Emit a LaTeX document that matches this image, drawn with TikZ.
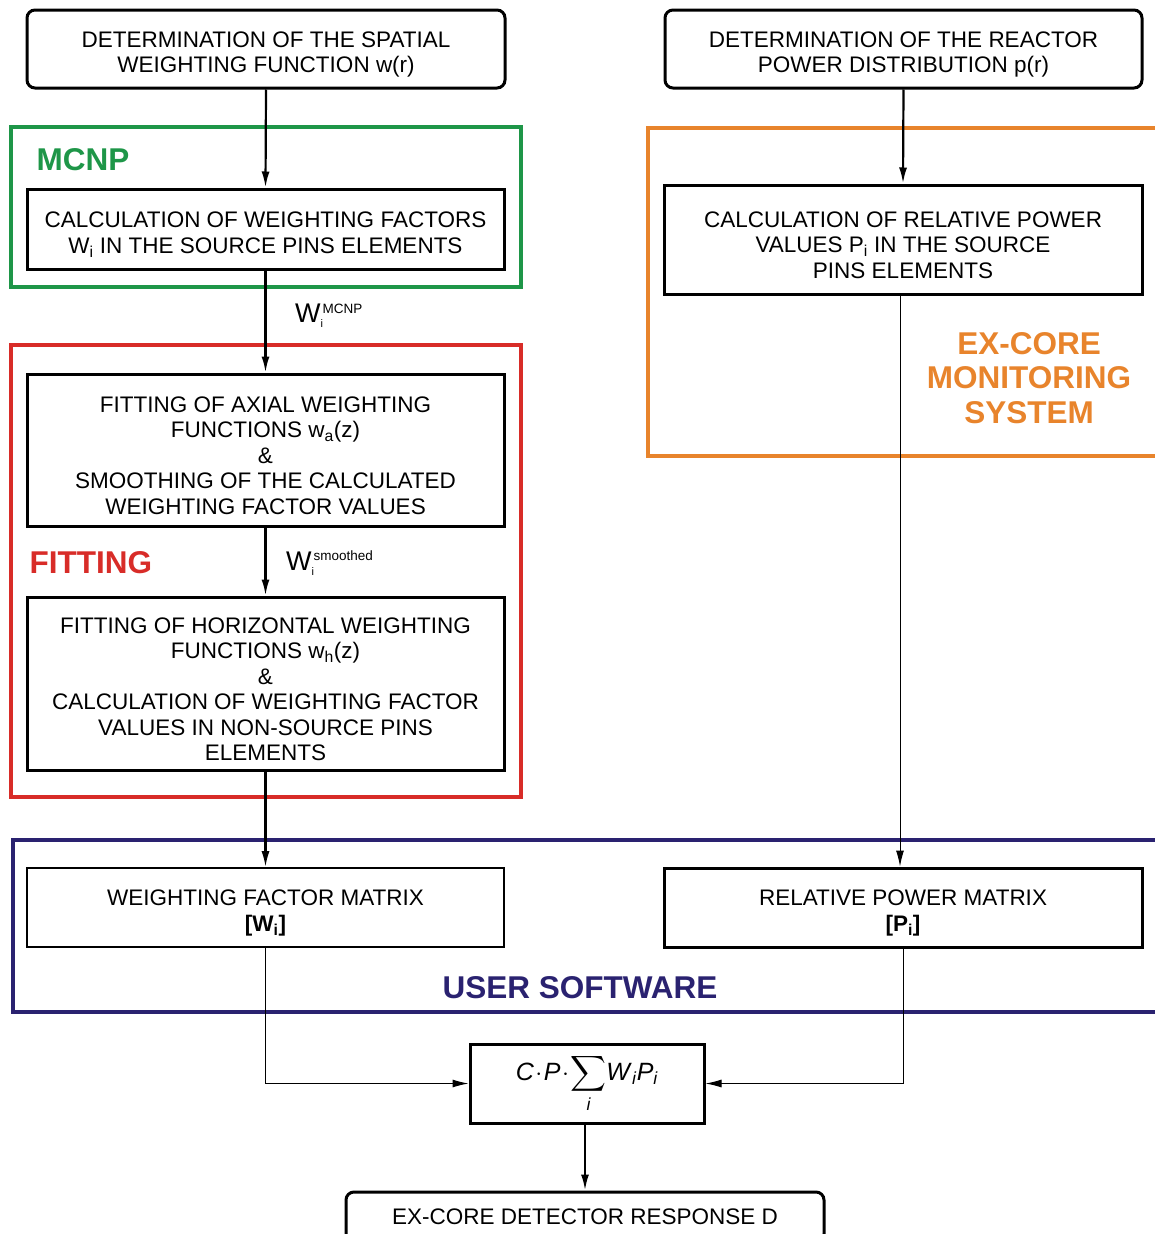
\RequirePackage{fix-cm}
\documentclass[tikz,border=0pt]{standalone}
\usepackage{amsmath}
\usepackage{fontspec}
\setmainfont{Liberation Sans}
\usetikzlibrary{arrows.meta}

\definecolor{mcnpgreen}{RGB}{30,150,72}
\definecolor{fitred}{RGB}{216,44,40}
\definecolor{exorange}{RGB}{232,132,44}
\definecolor{usernavy}{RGB}{42,34,112}

% extra room above the first text line of a box
\newcommand\boxtopstrut{\rule{0pt}{27pt}}

\begin{document}
\begin{tikzpicture}[x=1pt,y=-1pt,
  txt/.style={font=\fontsize{22.5}{25.5}\selectfont},
  box/.style={draw, line width=3pt, align=center, inner sep=0pt, txt},
  rbox/.style={box, rounded corners=8pt},
  thinbox/.style={box, line width=1.6pt},
  frame/.style={line width=3.2pt},
  grouplabel/.style={font=\fontsize{31.5}{34.5}\selectfont\bfseries, align=center},
  arr/.style={line width=2.2pt, -{Latex[length=16pt,width=8pt]}},
  thinarr/.style={line width=1pt, -{Latex[length=16pt,width=8pt]}},
  flowlabel/.style={anchor=west, inner sep=0pt}
]
\useasboundingbox (0,0) rectangle (1155,1234);
\clip (0,0) rectangle (1155,1234);

% group frames
\draw[frame, mcnpgreen] (11,127) rectangle (521,287);
\draw[frame, fitred] (11,345) rectangle (521,797);
\draw[frame, exorange] (648,128) rectangle (1170,456);
\draw[frame, usernavy] (13,840) rectangle (1170,1012);

% group labels
\node[grouplabel, mcnpgreen, anchor=west] (lmcnp) at (33,160) {MCNP};
\node[grouplabel, fitred, anchor=west] (lfit) at (26,563) {FITTING};
\node[grouplabel, exorange] (lexcore) at (1029,378) {EX-CORE\\MONITORING\\SYSTEM};
\node[grouplabel, usernavy] (luser) at (580,988) {USER SOFTWARE};

% left column
\node[rbox, minimum width=478pt, minimum height=78pt] (spatial) at (266,49)
  {\boxtopstrut DETERMINATION OF THE SPATIAL\\WEIGHTING FUNCTION w(r)};
\node[box, minimum width=477pt, minimum height=80pt] (wfac) at (265.5,229)
  {\boxtopstrut CALCULATION OF WEIGHTING FACTORS\\W\textsubscript{i} IN THE SOURCE PINS ELEMENTS};
\node[box, minimum width=477pt, minimum height=152pt] (axial) at (265.5,450)
  {\boxtopstrut FITTING OF AXIAL WEIGHTING\\FUNCTIONS w\textsubscript{a}(z)\\\&\\SMOOTHING OF THE CALCULATED\\WEIGHTING FACTOR VALUES};
\node[box, minimum width=477pt, minimum height=173pt] (horiz) at (265.5,683.5)
  {\boxtopstrut FITTING OF HORIZONTAL WEIGHTING\\FUNCTIONS w\textsubscript{h}(z)\\\&\\CALCULATION OF WEIGHTING FACTOR\\VALUES IN NON-SOURCE PINS\\ELEMENTS};
\node[thinbox, minimum width=477pt, minimum height=79pt] (wmat) at (265.5,907.5)
  {\boxtopstrut WEIGHTING FACTOR MATRIX\\\textbf{[W\textsubscript{i}]}};

% right column
\node[rbox, minimum width=477pt, minimum height=78pt] (power) at (903.5,49)
  {\boxtopstrut DETERMINATION OF THE REACTOR\\POWER DISTRIBUTION p(r)};
\node[box, minimum width=478pt, minimum height=109pt] (pval) at (903,239.5)
  {\boxtopstrut CALCULATION OF RELATIVE POWER\\VALUES P\textsubscript{i} IN THE SOURCE\\PINS ELEMENTS};
\node[box, minimum width=478pt, minimum height=79pt] (pmat) at (903,907.5)
  {\boxtopstrut RELATIVE POWER MATRIX\\\textbf{[P\textsubscript{i}]}};

% combination and result
\node[box, minimum width=234pt, minimum height=79pt] (calc) at (587,1083.5)
  {\fontsize{25}{28}\selectfont\rule{0pt}{24pt}\textit{C}\kern1.5pt$\cdot$\kern1.5pt\textit{P}\kern1.5pt$\cdot$\kern1.5pt$\displaystyle\sum_{\textit{i}}$\textit{W}\textsubscript{\textit{i}}\textit{P}\textsubscript{\textit{i}}};
\node[rbox, minimum width=478pt, minimum height=50pt] (resp) at (585,1217)
  {EX-CORE DETECTOR RESPONSE D};

% intermediate quantity labels
\node[flowlabel] (lwmcnp) at (295,316)
  {\fontsize{27}{27}\selectfont W\rlap{\raisebox{-5pt}{\fontsize{11}{11}\selectfont i}}\hspace{2pt}\raisebox{9.5pt}{\fontsize{13.5}{13.5}\selectfont MCNP}};
\node[flowlabel] (lwsm) at (286,563)
  {\fontsize{27}{27}\selectfont W\rlap{\raisebox{-5pt}{\fontsize{11}{11}\selectfont i}}\hspace{2pt}\raisebox{9.5pt}{\fontsize{13.5}{13.5}\selectfont smoothed}};

% connectors
\draw[arr] (spatial.south) -- (wfac.north);
\draw[arr] (wfac.south) -- (axial.north);
\draw[arr] (axial.south) -- (horiz.north);
\draw[arr] (horiz.south) -- (wmat.north);
\draw[arr] (power.south) -- (pval.north);
\draw[thinarr] ([xshift=-3pt]pval.south) -- ([xshift=-3pt]pmat.north);
\draw[thinarr] (wmat.south) |- (calc.west);
\draw[thinarr] (pmat.south) |- (calc.east);
\draw[arr] ([xshift=-2pt]calc.south) -- ([xshift=-2pt]calc.south |- resp.north);
\end{tikzpicture}
\end{document}
